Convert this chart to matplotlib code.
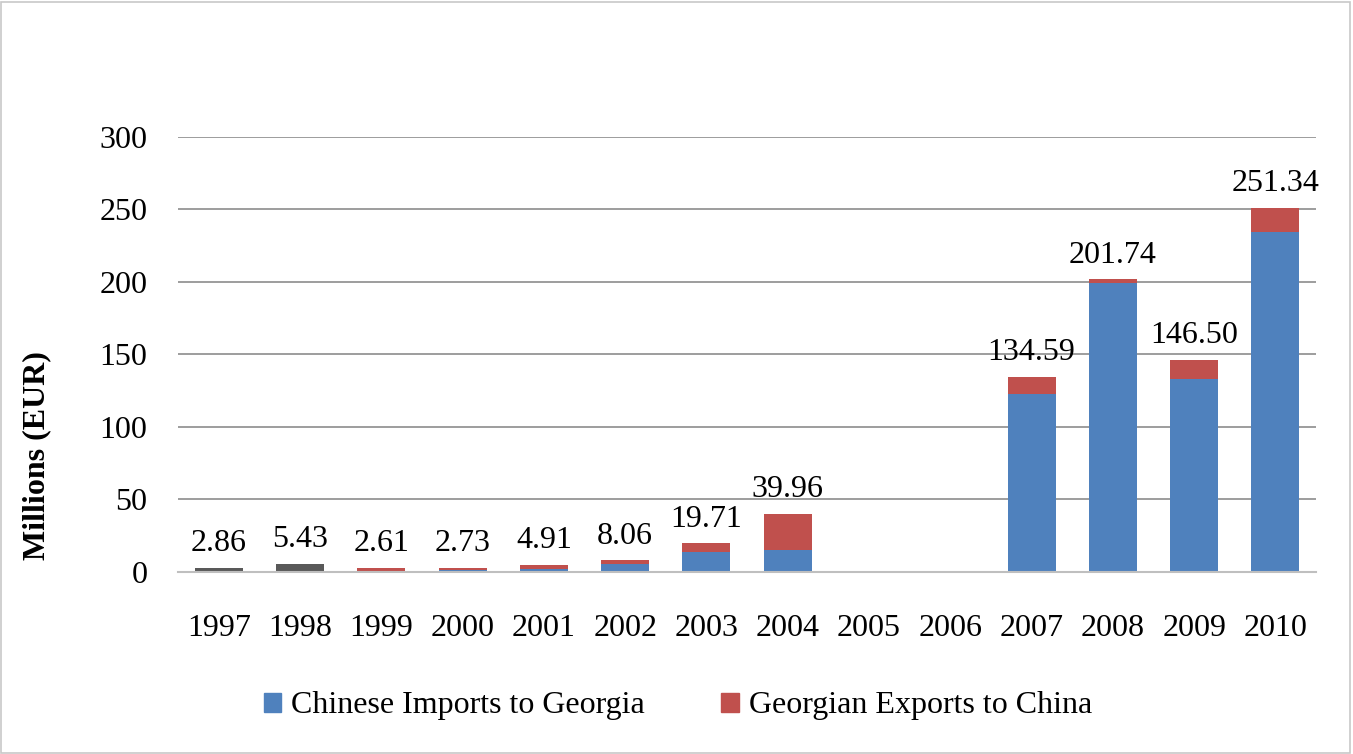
import matplotlib
matplotlib.use('Agg')
import matplotlib.pyplot as plt
from matplotlib.patches import Rectangle, Patch
import numpy as np

plt.rcParams['font.family'] = ['Liberation Serif', 'DejaVu Serif']

# 数据
years = ['1997', '1998', '1999', '2000', '2001', '2002', '2003',
         '2004', '2005', '2006', '2007', '2008', '2009', '2010']
imports = [0, 0, 0.6, 1.3, 2.4, 5.5, 13.6, 15.4, 0, 0, 123.0, 199.1, 132.9, 234.3]
exports = [0, 0, 2.01, 1.43, 2.51, 2.56, 6.11, 24.56, 0, 0, 11.59, 2.64, 13.6, 17.04]
unsplit = [2.86, 5.43, 0, 0, 0, 0, 0, 0, 0, 0, 0, 0, 0, 0]
totals = [2.86, 5.43, 2.61, 2.73, 4.91, 8.06, 19.71, 39.96,
          None, None, 134.59, 201.74, 146.50, 251.34]

BLUE = '#4f81bd'
RED = '#c0504d'
GRAY = '#595959'

fig = plt.figure(figsize=(13.53, 7.54), dpi=100)
fig.patches.append(Rectangle((0.001, 0.001), 0.997, 0.997, transform=fig.transFigure,
                             fill=False, edgecolor='#c8c8c8', linewidth=1.2))

ax = fig.add_axes([0.1316, 0.2414, 0.8411, 0.5769])
x = np.arange(len(years))
w = 0.59
ax.bar(x, unsplit, width=w, color=GRAY, zorder=3)
ax.bar(x, imports, width=w, color=BLUE, zorder=3)
ax.bar(x, exports, width=w, bottom=imports, color=RED, zorder=3)

# 柱顶标注总额
for i, t in enumerate(totals):
    if t is None:
        continue
    ax.annotate(f'{t:.2f}', (x[i], t), xytext=(0, 7), textcoords='offset points',
                ha='center', va='bottom', fontsize=23, clip_on=False)

ax.set_xlim(-0.5, len(years) - 0.5)
ax.set_ylim(0, 300)
ax.set_yticks(range(0, 301, 50))
ax.set_xticks(x)
ax.set_xticklabels(years)
ax.tick_params(axis='both', length=0, labelsize=23)
ax.tick_params(axis='x', pad=30)
ax.tick_params(axis='y', pad=22)
ax.yaxis.grid(True, color='#8c8c8c', linewidth=1.2, zorder=0)
ax.set_axisbelow(True)
for s in ['top', 'right', 'left']:
    ax.spines[s].set_visible(False)
ax.spines['bottom'].set_color('#bfbfbf')
ax.spines['bottom'].set_linewidth(1.5)
ax.spines['bottom'].set_zorder(4)

fig.text(0.027, 1 - 456 / 754, 'Millions (EUR)', rotation=90, fontsize=23,
         fontweight='bold', ha='center', va='center')

handles = [Patch(color=BLUE, label='Chinese Imports to Georgia'),
           Patch(color=RED, label='Georgian Exports to China')]
fig.legend(handles=handles, loc='center', bbox_to_anchor=(0.501, 1 - 706 / 754),
           ncol=2, frameon=False, fontsize=23, handlelength=0.55, handleheight=0.55,
           handletextpad=0.3, columnspacing=2.4)

fig.savefig('out.png', dpi=100)
